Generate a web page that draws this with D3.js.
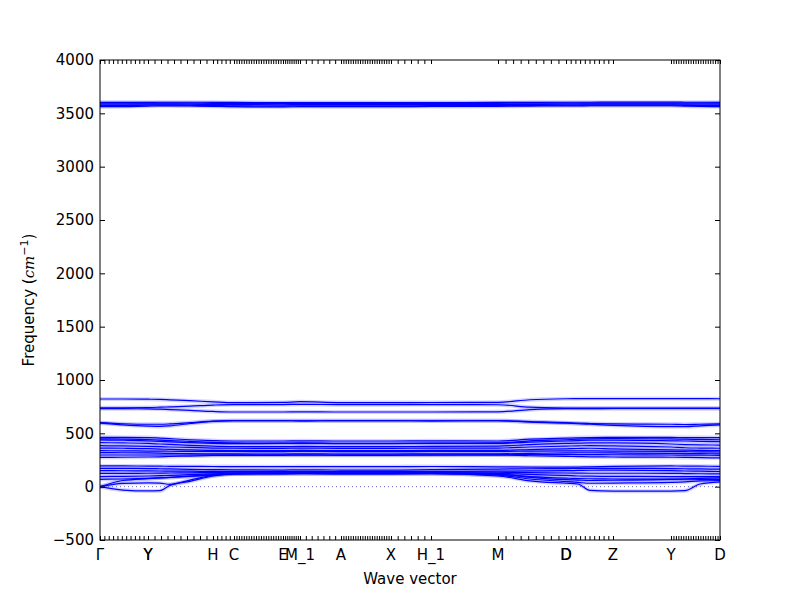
<!DOCTYPE html>
<html>
<head>
<meta charset="utf-8">
<script src="https://cdn.jsdelivr.net/npm/d3@7"></script>
<style>
  html, body { margin: 0; padding: 0; background: #fff; }
  svg { display: block; }
  text { font-family: "DejaVu Sans", sans-serif; }
</style>
</head>
<body>
<svg id="chart" width="800" height="600"></svg>
<script>
// ---------- data ----------
// sampling positions along the path (distance units)
const distances = [0, 0.23, 0.48, 0.60, 0.70, 0.90, 1.13, 1.34, 1.83, 2.00, 2.41, 2.91, 3.31, 3.98, 4.30, 4.66, 4.78, 4.90, 5.13, 5.71, 5.85, 6.00, 6.20];

// high-symmetry labels and their positions
const kLabels    = ["Γ", "Y", "Y", "H", "C", "E", "M_1", "A", "X", "H_1", "M", "D", "D", "Z", "Y", "D"];
const kPositions = [0, 0.48, 0.48, 1.13, 1.34, 1.83, 2.00, 2.41, 2.91, 3.31, 3.98, 4.66, 4.66, 5.13, 5.71, 6.20];

// q-point segments drawn as minor ticks: [start, end, intervals]
const tickSegments = [
  [0.00, 0.48, 11], [0.48, 1.13, 10], [1.13, 1.34, 5], [1.34, 1.83, 20],
  [1.83, 2.00, 8], [2.00, 2.41, 7], [2.41, 2.91, 21], [2.91, 3.31, 6],
  [3.98, 4.66, 9], [4.66, 5.13, 10], [5.71, 6.20, 20]
];

const yTicks = [-500, 0, 500, 1000, 1500, 2000, 2500, 3000, 3500, 4000];

// band frequencies (cm^-1) at each distance
const bandOH1 = [3603,3603,3603,3604,3604,3604,3603,3602,3600,3601,3601,3600,3601,3602,3603,3604,3604,3604,3605,3605,3604,3604,3603];
const bandOH2 = [3595,3595,3596,3596,3596,3595,3594,3593,3592,3593,3592,3592,3593,3594,3595,3595,3596,3596,3596,3596,3595,3595,3595];
const bandOH3 = [3585,3585,3586,3586,3586,3585,3584,3582,3580,3582,3581,3581,3582,3583,3584,3585,3585,3586,3586,3586,3585,3585,3585];
const bandOH4 = [3572,3573,3576,3577,3577,3576,3574,3570,3568,3571,3570,3570,3572,3574,3575,3576,3576,3577,3577,3577,3575,3573,3572];
const bandOH5 = [3562,3563,3568,3570,3570,3569,3566,3562,3560,3563,3562,3562,3564,3566,3568,3570,3570,3571,3571,3571,3568,3565,3563];

const bandA  = [822,822,820,818,814,806,795,787,790,797,788,788,789,791,815,824,825,826,826,826,825,825,824];
const bandB  = [740,740,742,745,748,755,765,770,770,772,769,769,770,768,745,737,736,736,736,736,736,736,736];
const bandC  = [731,731,730,727,723,715,705,700,700,702,700,700,700,702,722,732,732,732,733,733,733,733,733];
const bandD1 = [600,590,585,585,588,600,615,619,619,617,619,619,617,619,610,600,595,592,588,585,583,585,588];
const bandD2 = [596,580,568,565,570,592,612,619,619,617,619,619,617,619,605,596,590,585,575,562,562,570,580];

const bandG1  = [463,462,460,455,450,440,432,428,428,430,428,428,430,428,445,455,458,460,462,462,460,460,460];
const bandG2  = [448,446,442,437,432,425,415,410,408,410,406,406,408,410,430,440,445,448,450,448,445,443,440];
const bandG3  = [438,435,430,425,420,412,406,404,405,406,404,404,406,405,418,428,432,435,435,430,428,425,422];
const bandG4  = [413,410,405,400,396,388,380,376,375,378,375,375,377,380,395,405,408,410,410,400,395,392,390];
const bandG5  = [384,382,378,375,372,368,362,360,359,362,359,359,361,362,372,380,383,385,382,372,365,362,360];
const bandG6  = [362,360,356,352,349,344,340,338,337,340,337,337,340,340,348,355,358,360,355,345,342,340,338];
const bandG7  = [337,336,334,333,332,331,330,330,328,331,328,328,330,330,334,336,336,336,334,330,328,326,325];
const bandG8  = [319,318,316,314,312,310,308,307,306,308,306,306,308,308,312,316,318,318,316,312,310,309,308];
const bandG9  = [297,297,297,297,297,297,298,298,297,298,297,297,298,300,300,300,300,300,299,297,296,295,294];
const bandG10 = [275,276,278,280,283,287,292,294,294,295,294,294,295,296,290,284,282,280,278,276,274,272,270];

const bandH1 = [194,194,193,192,191,190,189,188,187,188,187,187,189,186,184,183,184,186,190,194,193,192,190];
const bandH2 = [172,171,170,168,166,162,160,158,156,158,156,156,160,165,168,170,171,172,172,170,168,166,164];
const bandH3 = [150,149,148,147,146,145,143,142,141,142,141,141,142,145,148,150,152,154,155,150,147,145,142];
const bandH4 = [125,125,126,127,128,130,132,135,135,137,135,135,137,135,132,128,127,126,126,125,123,121,120];
const bandH5 = [94,97,100,103,106,112,120,128,128,130,128,128,130,125,115,105,100,98,97,95,95,94,94];
const bandH6 = [69,72,78,82,86,96,110,122,125,125,125,125,125,115,95,80,76,74,72,70,70,69,69];

const bandAc1 = [0,-32,-40,-38,12,50,100,118,120,122,120,120,122,100,55,32,25,-35,-42,-42,-38,25,45];
const bandAc2 = [0,30,36,33,22,62,105,120,122,124,122,122,124,108,72,48,40,32,34,40,44,55,58];
const bandAc3 = [0,58,75,82,88,100,114,126,128,130,128,128,130,118,88,66,62,58,60,68,72,78,82];

const bands = [bandOH1, bandOH2, bandOH3, bandOH4, bandOH5,
  bandA, bandB, bandC, bandD1, bandD2,
  bandG1, bandG2, bandG3, bandG4, bandG5, bandG6, bandG7, bandG8, bandG9, bandG10,
  bandH1, bandH2, bandH3, bandH4, bandH5, bandH6,
  bandAc1, bandAc2, bandAc3];

// ---------- layout ----------
const svg = d3.select("#chart");
const margin = {left: 100, right: 80, top: 60, bottom: 60};
const W = 800, H = 600;
const x = d3.scaleLinear().domain([0, 6.20]).range([margin.left, W - margin.right]);
const y = d3.scaleLinear().domain([-500, 4000]).range([H - margin.bottom, margin.top]);

svg.append("defs").append("clipPath").attr("id", "clip")
  .append("rect").attr("x", x(0)).attr("y", y(4000)).attr("width", x(6.2) - x(0)).attr("height", y(-500) - y(4000));

// zero line
svg.append("line")
  .attr("x1", x(0)).attr("x2", x(6.2)).attr("y1", y(0)).attr("y2", y(0))
  .attr("stroke", "#6a6ac8").attr("stroke-width", 1).attr("stroke-dasharray", "1,3");

// bands
const line = d3.line()
  .x((d, i) => x(distances[i]))
  .y(d => y(d))
  .curve(d3.curveMonotoneX);

const bandG = svg.append("g").attr("clip-path", "url(#clip)");
// soft halo imitating the dense point markers
bandG.append("g").selectAll("path").data(bands).join("path")
  .attr("d", line)
  .attr("fill", "none")
  .attr("stroke", "#3a3aff")
  .attr("stroke-opacity", 0.22)
  .attr("stroke-width", 4);
bandG.append("g").selectAll("path").data(bands).join("path")
  .attr("d", line)
  .attr("fill", "none")
  .attr("stroke", "#0000ff")
  .attr("stroke-width", 1.2);

// q-point tick positions
const qTicks = [];
tickSegments.forEach(([a, b, n]) => {
  for (let i = 0; i <= n; i++) qTicks.push(a + (b - a) * i / n);
});

// axes
const axisStyle = g => {
  g.selectAll(".domain").remove();
  g.selectAll("line").attr("stroke", "#000").attr("stroke-width", 1);
  g.selectAll("text").attr("font-family", "DejaVu Sans, sans-serif").attr("font-size", 15).attr("fill", "#000");
};

svg.append("g").attr("transform", `translate(${x(0)},0)`)
  .call(d3.axisLeft(y).tickValues(yTicks).tickSize(-5).tickPadding(6).tickFormat(d3.format("d")))
  .call(axisStyle);
svg.append("g").attr("transform", `translate(${x(6.2)},0)`)
  .call(d3.axisRight(y).tickValues(yTicks).tickSize(-5).tickFormat(""))
  .call(axisStyle);
svg.append("g").attr("transform", `translate(0,${y(-500)})`)
  .call(d3.axisBottom(x).tickValues(qTicks).tickSize(-4).tickFormat(""))
  .call(axisStyle);
svg.append("g").attr("transform", `translate(0,${y(4000)})`)
  .call(d3.axisTop(x).tickValues(qTicks).tickSize(-4).tickFormat(""))
  .call(axisStyle);

// frame
svg.append("rect")
  .attr("x", x(0)).attr("y", y(4000))
  .attr("width", x(6.2) - x(0)).attr("height", y(-500) - y(4000))
  .attr("fill", "none").attr("stroke", "#000").attr("stroke-width", 1);

// k-point labels
svg.append("g").selectAll("text").data(kLabels).join("text")
  .attr("x", (d, i) => x(kPositions[i]))
  .attr("y", y(-500) + 20)
  .attr("text-anchor", "middle")
  .attr("font-size", 15)
  .attr("font-family", d => d === "Γ" ? "DejaVu Serif, serif" : "DejaVu Sans, sans-serif")
  .text(d => d);

// axis titles
svg.append("text")
  .attr("x", (x(0) + x(6.2)) / 2).attr("y", 584)
  .attr("text-anchor", "middle").attr("font-size", 15)
  .text("Wave vector");

const yl = svg.append("text")
  .attr("transform", `translate(34,${(y(4000) + y(-500)) / 2}) rotate(-90)`)
  .attr("text-anchor", "middle").attr("font-size", 15);
yl.append("tspan").text("Frequency (");
yl.append("tspan").attr("font-family", "DejaVu Serif, serif").attr("font-style", "italic").text("cm");
yl.append("tspan").attr("font-size", 11).attr("dy", -6).text("−1");
yl.append("tspan").attr("dy", 6).text(")");
</script>
</body>
</html>
